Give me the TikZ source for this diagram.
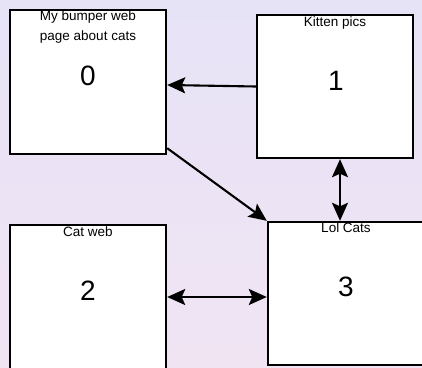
\documentclass[tikz,border=0pt]{standalone}
\usepackage{fontspec}
\setmainfont{Liberation Sans}
\usetikzlibrary{arrows.meta}
\definecolor{bgtop}{RGB}{231,227,247}
\definecolor{bgbot}{RGB}{240,228,243}
\tikzset{
  page/.style={draw=black, line width=2.4pt, fill=white, minimum width=156pt, minimum height=144pt, inner sep=0pt},
  ttl/.style={anchor=base, inner sep=0pt, font=\fontsize{13.5}{15}\selectfont},
  num/.style={anchor=center, inner sep=0pt, font=\fontsize{28}{30}\selectfont},
  link/.style={line width=2.1pt, -{Stealth[length=18pt,width=16pt,inset=3.5pt]}},
  dlink/.style={line width=2.1pt, {Stealth[length=18pt,width=16pt,inset=3.5pt]}-{Stealth[length=18pt,width=16pt,inset=3.5pt]}}
}
\begin{document}
\begin{tikzpicture}[x=1pt,y=-1pt]
\useasboundingbox (0,0) rectangle (422,367);
\shade[top color=bgtop, bottom color=bgbot] (0,0) rectangle (422,367);
\begin{scope}
\clip (0,0) rectangle (422,367);
\node[page] (box0) at (88,82) {};
\node[page, minimum height=143pt] (box1) at (335,86.5) {};
\node[page] (box2) at (88,297) {};
\node[page, minimum height=143pt] (box3) at (346,293.5) {};
\end{scope}
\node[ttl] (t0a) at (88,20.5) {My bumper web};
\node[ttl] (t0b) at (88,40.5) {page about cats};
\node[num] (n0) at (88,75.5) {0};
\node[ttl] (t1) at (335,26.5) {Kitten pics};
\node[num] (n1) at (336,80.5) {1};
\node[ttl] (t2) at (88,236.5) {Cat web};
\node[num] (n2) at (88,291) {2};
\node[ttl] (t3) at (346,232.5) {Lol Cats};
\node[num] (n3) at (346,287) {3};
\draw[link] (box1.west) -- ([yshift=-3pt]box0.east);
\draw[link] ([yshift=7pt]box0.south east) -- (box3.north west);
\draw[dlink] ([xshift=5pt]box1.south) -- ([xshift=5pt]box1.south |- box3.north);
\draw[dlink] (box2.east) -- (box2.east -| box3.west);
\end{tikzpicture}
\end{document}
